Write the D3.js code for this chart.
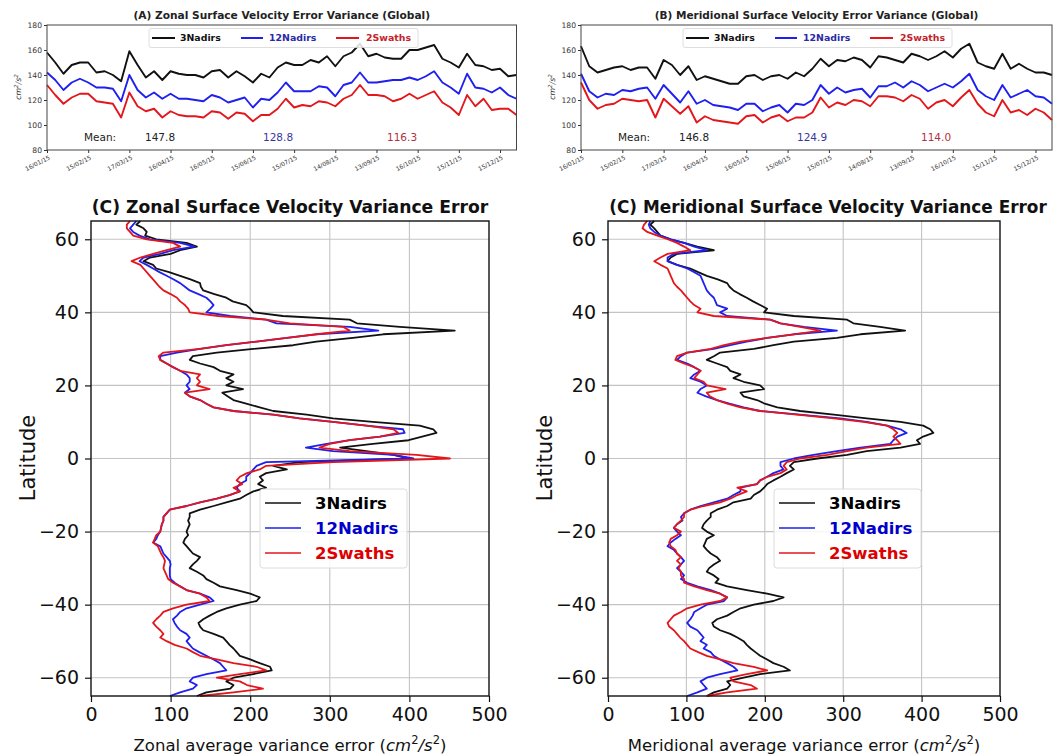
<!DOCTYPE html>
<html><head><meta charset="utf-8">
<script src="https://cdn.jsdelivr.net/npm/d3@7"></script>
<style>body{margin:0;background:#fff}svg{display:block}text{font-family:"DejaVu Sans",sans-serif}</style>
</head><body><svg id="c" width="1057" height="755"></svg>
<script>
// ---------- DATA ----------
const seriesNames = ["3Nadirs","12Nadirs","2Swaths"];
const dateTickLabels = ["16/01/15","15/02/15","17/03/15","16/04/15","16/05/15","15/06/15","15/07/15","14/08/15","13/09/15","16/10/15","15/11/15","15/12/15"];
const dateTickIndex = [0,5,10,15,20,25,30,35,40,45,50,55];
const timeYTicks = [80,100,120,140,160,180];

const zonalTime3Nadirs = [158,150,141,148,150,150,142,143,140,135,159,148,138,143,136,143,141,140,140,138,143,144,138,143,139,134,141,138,146,150,148,148,152,150,155,147,155,158,165,155,157,154,153,153,160,160,162,164,153,150,146,157,148,147,144,145,139,140];
const zonalTime12Nadirs = [142,136,128,134,137,134,130,130,129,119,140,128,122,126,121,125,121,121,120,119,124,122,118,120,122,114,121,120,126,134,127,127,127,131,130,123,132,134,142,134,134,135,136,136,138,136,139,143,134,130,125,141,130,129,126,130,124,121];
const zonalTime2Swaths = [132,124,117,122,125,125,119,118,117,106,126,115,111,113,106,111,108,107,107,106,111,110,105,110,109,103,108,108,113,121,114,116,115,119,118,115,121,124,132,124,124,123,119,121,125,121,124,127,118,114,108,124,115,121,112,113,113,108];
const meridTime3Nadirs = [163,147,142,144,146,147,144,146,146,137,152,148,140,147,136,139,137,135,133,133,139,140,136,139,140,137,142,139,145,153,147,152,151,154,152,146,155,154,152,150,157,155,152,155,159,154,161,165,150,147,145,157,145,149,145,142,142,140];
const meridTime12Nadirs = [141,127,122,125,124,128,127,129,130,121,132,125,118,127,117,120,116,115,114,112,117,117,111,114,116,110,117,116,120,132,125,130,126,128,129,122,131,131,134,130,135,132,127,130,133,130,135,141,128,123,120,132,122,125,128,123,122,117];
const meridTime2Swaths = [134,120,113,116,117,121,120,119,120,106,121,115,109,115,102,107,104,103,102,101,107,108,102,106,108,103,106,106,110,122,114,118,116,120,119,115,123,123,122,119,124,121,113,118,120,115,122,128,117,110,107,120,110,112,108,113,110,104];
const zonalMeans = ["147.8","128.8","116.3"];
const meridMeans = ["146.8","124.9","114.0"];

// latitude 65 -> -65, 1 degree
const latitudes = d3.range(65, -66, -1);
const zonalLat3Nadirs = [62,57,66,70,68,82,120,133,112,100,74,66,78,82,98,112,125,137,138,141,155,170,178,195,200,204,241,325,334,388,457,367,329,283,254,204,158,128,124,137,154,162,179,170,179,170,191,165,172,179,195,212,229,271,304,354,413,430,434,416,399,354,313,346,380,400,
262,229,246,220,212,216,210,220,204,195,187,170,154,137,124,124,122,124,122,120,122,118,116,120,124,128,137,133,128,124,133,141,145,154,162,183,200,212,208,187,170,158,149,141,135,137,141,154,166,170,174,179,183,187,200,212,225,227,204,179,170,179,175,145,133];
const zonalLat12Nadirs = [57,53,49,53,61,74,112,130,103,87,66,61,70,78,86,95,104,112,118,124,135,145,150,154,150,145,175,220,233,325,361,283,246,208,170,137,108,87,87,95,103,112,120,124,124,120,124,118,124,137,145,154,179,229,262,304,346,392,394,363,325,296,270,304,380,405,
220,208,204,200,195,195,187,183,187,174,158,137,120,99,95,91,91,89,88,87,84,82,78,87,89,91,95,99,100,99,99,99,100,105,112,120,137,149,154,137,120,112,108,103,105,108,112,120,124,120,124,128,136,145,154,162,166,170,145,128,124,133,128,112,99];
const zonalLat2Swaths = [49,45,45,49,53,70,103,112,95,78,62,51,62,66,70,74,78,82,86,91,100,108,112,118,122,124,160,220,250,317,325,283,246,208,170,137,91,85,87,95,103,112,137,133,137,133,149,118,124,137,145,154,179,229,262,304,346,380,386,363,325,300,287,325,409,451,
304,220,212,196,187,183,190,179,187,174,158,137,120,99,95,91,91,89,88,87,82,80,78,84,86,88,91,93,92,91,93,95,97,103,112,120,137,145,149,120,103,91,87,82,78,82,87,91,87,95,105,120,128,137,158,179,208,220,187,158,187,196,216,179,137];
const meridLat3Nadirs = [59,54,59,63,67,80,97,114,135,88,80,76,88,105,115,126,140,152,155,160,168,177,185,194,203,199,237,305,313,347,379,322,292,237,211,186,143,135,126,139,152,156,169,160,173,194,199,169,173,190,200,216,245,288,330,373,402,411,415,402,394,398,373,330,305,267,
237,232,237,228,220,211,203,199,194,186,182,160,152,139,131,131,126,122,120,126,135,126,124,122,126,131,139,143,135,129,126,135,141,137,152,177,203,224,211,186,169,160,152,139,133,135,143,156,165,173,177,182,188,194,203,211,224,232,194,173,152,156,152,135,126];
const meridLat12Nadirs = [54,52,54,59,67,80,97,110,126,84,76,76,88,101,110,118,120,122,124,126,130,135,137,139,152,143,152,207,220,250,292,237,203,177,156,135,101,93,88,101,110,118,110,105,118,126,118,114,125,139,155,173,194,245,296,330,356,373,381,369,364,360,322,292,262,237,
220,220,224,211,203,194,190,169,169,160,152,135,118,105,97,93,95,88,84,88,93,86,80,76,84,88,93,97,93,88,93,97,93,101,114,131,143,152,148,126,118,110,108,105,101,105,114,118,122,118,126,122,131,135,143,152,160,165,143,126,118,122,126,114,101];
const meridLat2Swaths = [50,46,44,50,63,76,88,97,105,76,67,59,67,76,78,80,82,84,88,93,97,101,105,110,118,114,135,207,220,245,271,237,203,169,148,131,101,88,86,97,110,118,114,110,122,126,150,126,130,139,152,169,194,241,288,326,356,364,369,364,369,373,330,305,280,245,
228,224,228,220,203,194,190,165,177,165,156,143,122,105,97,97,93,88,84,93,88,80,78,80,86,88,93,88,93,90,93,93,97,97,110,126,143,152,143,118,101,93,84,80,76,78,84,88,92,97,101,105,115,126,143,160,186,203,177,156,160,182,190,152,126];
const latTicks = [-60,-40,-20,0,20,40,60];
const errTicks = [0,100,200,300,400,500];

// ---------- STYLE ----------
const lineColors = ["#111111","#1f1fee","#e3161b"];
const topTextColors = ["#111111","#2a2aa6","#c51f2b"];
const meanColors = ["#222222","#38389a","#b23040"];
const botTextColors = ["#000000","#0000cc","#dd0000"];

const svg = d3.select("#c");

function fitText(sel, target) {
  const n = sel.node(); const w = n.getComputedTextLength();
  const fs = parseFloat(sel.attr("font-size"));
  sel.attr("font-size", (fs * target / w).toFixed(2));
}

// ---------- TOP PANELS ----------
function topPanel(cfg) {
  const x = d3.scaleLinear().domain([0, 57]).range([cfg.x0, cfg.x1]);
  const y = d3.scaleLinear().domain([80, 180]).range([150, 25]);
  const g = svg.append("g");
  const ya = g.append("g").attr("transform", `translate(${cfg.x0},0)`)
    .call(d3.axisLeft(y).tickValues(timeYTicks).tickSize(3).tickPadding(2));
  ya.selectAll("text").attr("font-size", 7.6).attr("fill", "#333");
  ya.select(".domain").remove();
  ya.selectAll("line").attr("stroke", "#333");
  const xa = g.append("g").attr("transform", `translate(0,150)`)
    .call(d3.axisBottom(x).tickValues(dateTickIndex).tickFormat((d, i) => dateTickLabels[i]).tickSize(3));
  xa.select(".domain").remove();
  xa.selectAll("line").attr("stroke", "#333");
  xa.selectAll("text").attr("font-size", 6).attr("fill", "#333")
    .attr("text-anchor", "end").attr("dy", null).attr("y", 0)
    .attr("transform", "translate(3,9) rotate(-27)");
  const line = d3.line().x((d, i) => x(i)).y(d => y(d));
  cfg.series.forEach((s, k) => {
    g.append("path").attr("d", line(s)).attr("fill", "none")
      .attr("stroke", lineColors[k]).attr("stroke-width", 1.9).attr("stroke-linejoin", "round");
  });
  g.append("rect").attr("x", cfg.x0).attr("y", 25).attr("width", cfg.x1 - cfg.x0).attr("height", 125)
    .attr("fill", "none").attr("stroke", "#444").attr("stroke-width", 1);
  const t = g.append("text").attr("x", (cfg.x0 + cfg.x1) / 2).attr("y", 19).attr("text-anchor", "middle")
    .attr("font-weight", "bold").attr("font-size", 9.5).attr("fill", "#222").text(cfg.title);
  fitText(t, cfg.titleW);
  const yl = g.append("text").attr("transform", `translate(${cfg.x0 - 26},87) rotate(-90)`)
    .attr("text-anchor", "middle").attr("font-size", 7.8).attr("font-style", "italic").attr("fill", "#333");
  yl.append("tspan").text("cm");
  yl.append("tspan").attr("font-size", 5.5).attr("dy", -3).text("2");
  yl.append("tspan").attr("dy", 3).text("/s");
  yl.append("tspan").attr("font-size", 5.5).attr("dy", -3).text("2");
  g.append("rect").attr("x", cfg.x0 + 102).attr("y", 28.5).attr("width", 269).attr("height", 19).attr("rx", 2)
    .attr("fill", "#fff").attr("fill-opacity", 0.85).attr("stroke", "#d6d6d6").attr("stroke-width", 0.8);
  const lx = [[105, 128, 133], [194, 216, 222], [289, 312, 319]];
  seriesNames.forEach((nm, k) => {
    g.append("line").attr("x1", cfg.x0 + lx[k][0]).attr("x2", cfg.x0 + lx[k][1]).attr("y1", 38).attr("y2", 38)
      .attr("stroke", lineColors[k]).attr("stroke-width", 2);
    g.append("text").attr("x", cfg.x0 + lx[k][2]).attr("y", 41.3).attr("font-size", 9.4).attr("font-weight", "bold")
      .attr("fill", topTextColors[k]).text(nm);
  });
  g.append("text").attr("x", cfg.x0 + 37).attr("y", 141).attr("font-size", 10.5).attr("fill", "#222").text("Mean:");
  const mx = [98, 216, 340];
  cfg.means.forEach((m, k) => {
    g.append("text").attr("x", cfg.x0 + mx[k]).attr("y", 141).attr("font-size", 10.5).attr("fill", meanColors[k]).text(m);
  });
}
topPanel({x0: 47, x1: 516.5, title: "(A) Zonal Surface Velocity Error Variance (Global)", titleW: 297,
  series: [zonalTime3Nadirs, zonalTime12Nadirs, zonalTime2Swaths], means: zonalMeans});
topPanel({x0: 581, x1: 1052, title: "(B) Meridional Surface Velocity Error Variance (Global)", titleW: 324,
  series: [meridTime3Nadirs, meridTime12Nadirs, meridTime2Swaths], means: meridMeans});

// ---------- BOTTOM PANELS ----------
function profilePanel(cfg) {
  const x = d3.scaleLinear().domain([0, 500]).range([cfg.x0, cfg.x1]);
  const y = d3.scaleLinear().domain([-65, 65]).range([696, 221]);
  const g = svg.append("g");
  g.append("g").selectAll("line").data(errTicks.filter(d => d > 0 && d < 500)).join("line")
    .attr("x1", d => x(d)).attr("x2", d => x(d)).attr("y1", 221).attr("y2", 696)
    .attr("stroke", "#c4c4c4").attr("stroke-width", 1.1);
  g.append("g").selectAll("line").data(latTicks).join("line")
    .attr("x1", cfg.x0).attr("x2", cfg.x1).attr("y1", d => y(d)).attr("y2", d => y(d))
    .attr("stroke", "#c4c4c4").attr("stroke-width", 1.1);
  cfg.series.forEach((s, k) => {
    const line = d3.line().x(d => x(d)).y((d, i) => y(latitudes[i]));
    g.append("path").attr("d", line(s)).attr("fill", "none")
      .attr("stroke", lineColors[k]).attr("stroke-width", 1.8).attr("stroke-linejoin", "round");
  });
  g.append("rect").attr("x", cfg.x0).attr("y", 221).attr("width", cfg.x1 - cfg.x0).attr("height", 475)
    .attr("fill", "none").attr("stroke", "#111").attr("stroke-width", 1.4);
  const ya = g.append("g").attr("transform", `translate(${cfg.x0},0)`)
    .call(d3.axisLeft(y).tickValues(latTicks).tickSize(6).tickPadding(6).tickFormat(d => d < 0 ? "\u2212" + Math.abs(d) : d));
  ya.select(".domain").remove();
  ya.selectAll("text").attr("font-size", 19).attr("fill", "#111");
  ya.selectAll("line").attr("stroke", "#111").attr("stroke-width", 1.2);
  const xa = g.append("g").attr("transform", `translate(0,696)`)
    .call(d3.axisBottom(x).tickValues(errTicks).tickSize(6).tickPadding(6));
  xa.select(".domain").remove();
  xa.selectAll("text").attr("font-size", 19).attr("fill", "#111");
  xa.selectAll("line").attr("stroke", "#111").attr("stroke-width", 1.2);
  const t = g.append("text").attr("x", cfg.tx).attr("y", 213).attr("text-anchor", "middle")
    .attr("font-weight", "bold").attr("font-size", 17).attr("fill", "#111").text(cfg.title);
  fitText(t, cfg.titleW);
  g.append("text").attr("transform", `translate(${cfg.x0 - 56},458) rotate(-90)`).attr("text-anchor", "middle")
    .attr("font-size", 21).attr("fill", "#111").text("Latitude");
  const xl = g.append("text").attr("x", (cfg.x0 + cfg.x1) / 2).attr("y", 751).attr("text-anchor", "middle")
    .attr("font-size", 16.5).attr("fill", "#111");
  xl.append("tspan").text(cfg.xlabel + " (");
  xl.append("tspan").attr("font-style", "italic").text("cm");
  xl.append("tspan").attr("font-size", 11.5).attr("dy", -7).text("2");
  xl.append("tspan").attr("dy", 7).attr("font-style", "italic").text("/s");
  xl.append("tspan").attr("font-size", 11.5).attr("dy", -7).text("2");
  xl.append("tspan").attr("dy", 7).text(")");
  const bx = cfg.x0 + cfg.legDx;
  g.append("rect").attr("x", bx).attr("y", 489).attr("width", 147).attr("height", 79).attr("rx", 3)
    .attr("fill", "#fff").attr("fill-opacity", 0.85).attr("stroke", "#dcdcdc").attr("stroke-width", 1);
  seriesNames.forEach((nm, k) => {
    const ly = 503 + k * 25;
    g.append("line").attr("x1", bx + 5).attr("x2", bx + 41).attr("y1", ly).attr("y2", ly)
      .attr("stroke", lineColors[k]).attr("stroke-width", 1.6);
    g.append("text").attr("x", bx + 55).attr("y", ly + 6).attr("font-size", 16.5).attr("font-weight", "bold")
      .attr("fill", botTextColors[k]).text(nm);
  });
}
profilePanel({x0: 91, x1: 489, tx: 290, titleW: 397, title: "(C) Zonal Surface Velocity Variance Error",
  xlabel: "Zonal average variance error", legDx: 169,
  series: [zonalLat3Nadirs, zonalLat12Nadirs, zonalLat2Swaths]});
profilePanel({x0: 608, x1: 1000, tx: 828, titleW: 438, title: "(C) Meridional Surface Velocity Variance Error",
  xlabel: "Meridional average variance error", legDx: 166,
  series: [meridLat3Nadirs, meridLat12Nadirs, meridLat2Swaths]});
</script></body></html>
